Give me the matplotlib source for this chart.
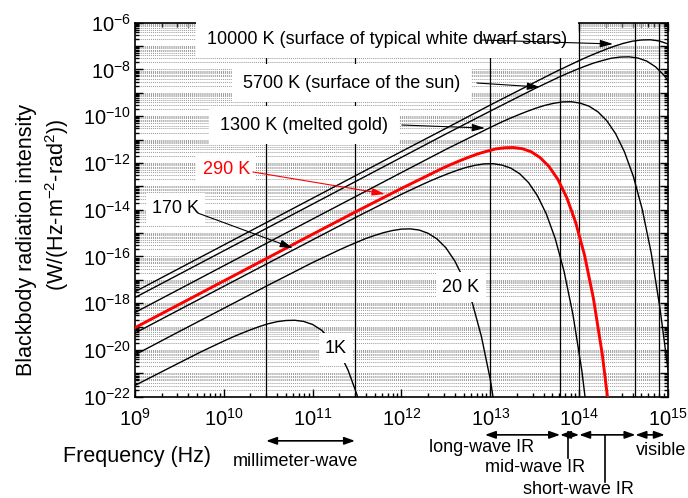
import matplotlib
matplotlib.use("Agg")
import matplotlib.pyplot as plt
import numpy as np
from matplotlib.ticker import FixedLocator, LogLocator, FuncFormatter, NullFormatter

plt.rcParams.update({
    "font.family": "Liberation Sans",
    "mathtext.fontset": "custom",
    "mathtext.rm": "Liberation Sans",
    "mathtext.it": "Liberation Sans:italic",
    "mathtext.bf": "Liberation Sans:bold",
})

# curves: log10(frequency / Hz) and log10(intensity)
lf_1K = [9.0, 9.5, 9.75, 10.0, 10.1, 10.2, 10.3, 10.4, 10.5, 10.6, 10.7, 10.8, 10.9,
         11.0, 11.1, 11.2, 11.3, 11.4, 11.5, 11.6]
li_1K = [-21.52, -20.55, -20.07, -19.62, -19.45, -19.29, -19.14, -19.00, -18.88, -18.79,
         -18.74, -18.73, -18.78, -18.91, -19.15, -19.53, -20.09, -20.87, -21.92, -23.33]

lf_20K = [9.0, 9.5, 10.0, 10.5, 11.0, 11.3, 11.4, 11.5, 11.6, 11.7, 11.8, 11.9, 12.0,
          12.1, 12.2, 12.3, 12.4, 12.5, 12.6, 12.7, 12.8, 12.9, 13.0, 13.1]
li_20K = [-20.21, -19.21, -18.22, -17.23, -16.26, -15.72, -15.55, -15.39, -15.23, -15.10,
          -14.98, -14.89, -14.83, -14.82, -14.87, -15.01, -15.25, -15.63, -16.19, -16.96,
          -18.02, -19.43, -21.27, -23.68]

lf_170K = [9.0, 10.0, 11.0, 11.5, 12.0, 12.23, 12.33, 12.43, 12.53, 12.63, 12.73, 12.83,
           12.93, 13.03, 13.13, 13.23, 13.33, 13.43, 13.53, 13.63, 13.73, 13.83, 13.93,
           14.03, 14.13]
li_170K = [-19.28, -17.28, -15.29, -14.30, -13.34, -12.93, -12.76, -12.60, -12.45, -12.31,
           -12.19, -12.10, -12.04, -12.03, -12.09, -12.22, -12.46, -12.84, -13.40, -14.18,
           -15.23, -16.64, -18.49, -20.89, -24.00]

lf_290K = [9.0, 10.0, 11.0, 11.5, 12.0, 12.46, 12.56, 12.66, 12.76, 12.86, 12.96, 13.06,
           13.16, 13.26, 13.36, 13.46, 13.56, 13.66, 13.76, 13.86, 13.96, 14.06, 14.16,
           14.26, 14.36]
li_290K = [-19.05, -17.05, -15.05, -14.06, -13.09, -12.23, -12.06, -11.90, -11.75, -11.61,
           -11.50, -11.40, -11.35, -11.34, -11.39, -11.52, -11.77, -12.15, -12.70, -13.48,
           -14.54, -15.94, -17.79, -20.19, -23.30]

lf_1300K = [9.0, 10.0, 11.0, 12.0, 12.5, 13.0, 13.11, 13.21, 13.31, 13.41, 13.51, 13.61,
            13.71, 13.81, 13.91, 14.01, 14.11, 14.21, 14.31, 14.41, 14.51, 14.61, 14.71,
            14.81, 14.91, 15.0]
li_1300K = [-18.40, -16.40, -14.40, -12.41, -11.42, -10.48, -10.28, -10.11, -9.95, -9.80,
            -9.66, -9.54, -9.45, -9.39, -9.38, -9.44, -9.57, -9.81, -10.19, -10.75, -11.53,
            -12.58, -13.99, -15.84, -18.24, -20.86]

lf_5700K = [9.0, 10.0, 11.0, 12.0, 12.5, 13.0, 13.5, 13.76, 13.86, 13.96, 14.06, 14.16,
            14.26, 14.36, 14.46, 14.56, 14.66, 14.76, 14.86, 14.96, 15.0]
li_5700K = [-17.76, -15.76, -13.76, -11.76, -10.76, -9.78, -8.82, -8.35, -8.18, -8.02,
            -7.87, -7.73, -7.62, -7.52, -7.47, -7.46, -7.51, -7.64, -7.89, -8.27, -8.49]

lf_10000K = [9.0, 10.0, 11.0, 12.0, 12.5, 13.0, 13.5, 13.75, 14.0, 14.1, 14.2, 14.3, 14.4,
             14.5, 14.6, 14.7, 14.8, 14.9, 15.0]
li_10000K = [-17.51, -15.51, -13.51, -11.51, -10.52, -9.52, -8.55, -8.07, -7.62, -7.45,
             -7.29, -7.14, -7.00, -6.88, -6.79, -6.74, -6.73, -6.78, -6.91]

# band boundaries (Hz)
band_lines = [3e10, 3e11, 1e13, 6.1e13, 1e14, 4.3e14, 8e14]

black_curves = [(lf_1K, li_1K), (lf_20K, li_20K), (lf_170K, li_170K),
                (lf_1300K, li_1300K), (lf_5700K, li_5700K), (lf_10000K, li_10000K)]

fig = plt.figure(figsize=(6.88, 4.98), dpi=100)
ax = fig.add_axes([0.196, 0.2034, 0.775, 0.751])

for lf, li in black_curves:
    ax.plot(10.0 ** np.array(lf), 10.0 ** np.array(li), color='black', lw=1.0, zorder=3)
ax.plot(10.0 ** np.array(lf_290K), 10.0 ** np.array(li_290K), color='#ff0000', lw=2.1, zorder=4)

for f in band_lines:
    ax.axvline(f, color='black', lw=0.9, zorder=2)

ax.set_xscale('log')
ax.set_yscale('log')
ax.set_xlim(1e9, 1e15)
ax.set_ylim(1e-22, 1e-6)

# ticks
ax.xaxis.set_major_locator(FixedLocator([10.0 ** e for e in range(9, 16)]))
ax.xaxis.set_major_formatter(FuncFormatter(
    lambda v, p: r'$\mathregular{10^{%d}}$' % round(np.log10(v))))
ax.yaxis.set_major_locator(FixedLocator([10.0 ** e for e in range(-22, -5)]))
ax.yaxis.set_major_formatter(FuncFormatter(
    lambda v, p: (r'$\mathregular{10^{%d}}$' % round(np.log10(v)))
    if round(np.log10(v)) % 2 == 0 else ''))
for axis in (ax.xaxis, ax.yaxis):
    axis.set_minor_locator(LogLocator(base=10, subs=range(2, 10), numticks=200))
    axis.set_minor_formatter(NullFormatter())
ax.tick_params(which='both', direction='in', top=True, right=True, width=1.0)
ax.tick_params(which='major', length=6, labelsize=14.5)
ax.tick_params(which='minor', length=3)
ax.tick_params(axis='x', pad=8)
ax.tick_params(axis='y', pad=3)
for s in ax.spines.values():
    s.set_linewidth(1.2)

ax.yaxis.grid(True, which='both', linestyle=(0, (1, 1)), color='#999999', lw=0.7, zorder=0)
ax.set_axisbelow(True)

# curve labels
box = dict(facecolor='white', edgecolor='none', boxstyle='square,pad=0.6')
small_box = dict(facecolor='white', edgecolor='none', boxstyle='square,pad=0.35')
ax.text(6.87e11, 2.0e-7, "10000 K (surface of typical white dwarf stars)", fontsize=13,
        ha='center', va='center', bbox=box, zorder=6)
ax.text(2.74e11, 2.6e-9, "5700 K (surface of the sun)", fontsize=13,
        ha='center', va='center', bbox=box, zorder=6)
ax.text(7.98e10, 4.2e-11, "1300 K (melted gold)", fontsize=13,
        ha='center', va='center', bbox=box, zorder=6)
ax.text(1.07e10, 5.0e-13, "290 K", fontsize=13, color='#ff0000',
        ha='center', va='center', bbox=small_box, zorder=6)
ax.text(2.86e9, 1.17e-14, "170 K", fontsize=13,
        ha='center', va='center', bbox=small_box, zorder=6)
ax.text(1.83e11, 1.2e-20, "1K", fontsize=13,
        ha='center', va='center', bbox=small_box, zorder=6)
ax.text(4.68e12, 4.9e-18, "20 K", fontsize=13,
        ha='center', va='center', bbox=small_box, zorder=6)

arrow_kw = dict(arrowstyle='-|>,head_length=0.55,head_width=0.16', lw=0.8,
                shrinkA=0, shrinkB=0, mutation_scale=14)
pointers = [((7.9e12, 1.82e-7), (2.4e14, 1.23e-7), 'black'),
            ((7.08e12, 2.63e-9), (3.62e13, 1.77e-9), 'black'),
            ((1.01e12, 4.2e-11), (8.7e12, 3.1e-11), 'black'),
            ((2.13e10, 4.1e-13), (6.5e11, 4.7e-14), '#ff0000'),
            ((5.1e9, 7.2e-15), (6.0e10, 2.3e-16), 'black')]
for tail, head, c in pointers:
    ax.annotate('', xy=head, xytext=tail, arrowprops=dict(color=c, **arrow_kw), zorder=7)

# spectral bands under the axis
trans = ax.get_xaxis_transform()
band_kw = dict(arrowstyle='<|-|>,head_length=0.45,head_width=0.16', lw=1.2, color='black',
               shrinkA=0, shrinkB=0, mutation_scale=14)
bands = [(3e10, 3e11, -0.118), (8.7e12, 6.1e13, -0.102), (6.1e13, 1e14, -0.102),
         (1e14, 4.3e14, -0.102), (4.3e14, 9.2e14, -0.102)]
for f0, f1, yb in bands:
    ax.annotate('', xy=(f1, yb), xytext=(f0, yb), xycoords=trans, textcoords=trans,
                arrowprops=band_kw, annotation_clip=False)
ax.plot([7.5e13, 7.5e13], [-0.102, -0.164], transform=trans, color='black', lw=1.2, clip_on=False)
ax.plot([1.95e14, 1.95e14], [-0.102, -0.228], transform=trans, color='black', lw=1.2, clip_on=False)

band_text = [(6.5e10, -0.172, "millimeter-wave"), (8.05e12, -0.137, "long-wave IR"),
             (3.18e13, -0.188, "mid-wave IR"), (9.7e13, -0.249, "short-wave IR"),
             (8.3e14, -0.1425, "visible")]
for f, yb, s in band_text:
    ax.text(f, yb, s, transform=trans, fontsize=13, ha='center', va='center', clip_on=False)

fig.text(0.199, 0.0843, "Frequency (Hz)", fontsize=15.5, ha='center', va='center')
fig.text(0.039, 0.518, "Blackbody radiation intensity", fontsize=15.5,
         rotation=90, ha='center', va='center')
fig.text(0.083, 0.588, r"(W/(Hz-m$^{-2}$-rad$^{2}$))", fontsize=15.5,
         rotation=90, ha='center', va='center')

fig.savefig("out.png", dpi=100)
